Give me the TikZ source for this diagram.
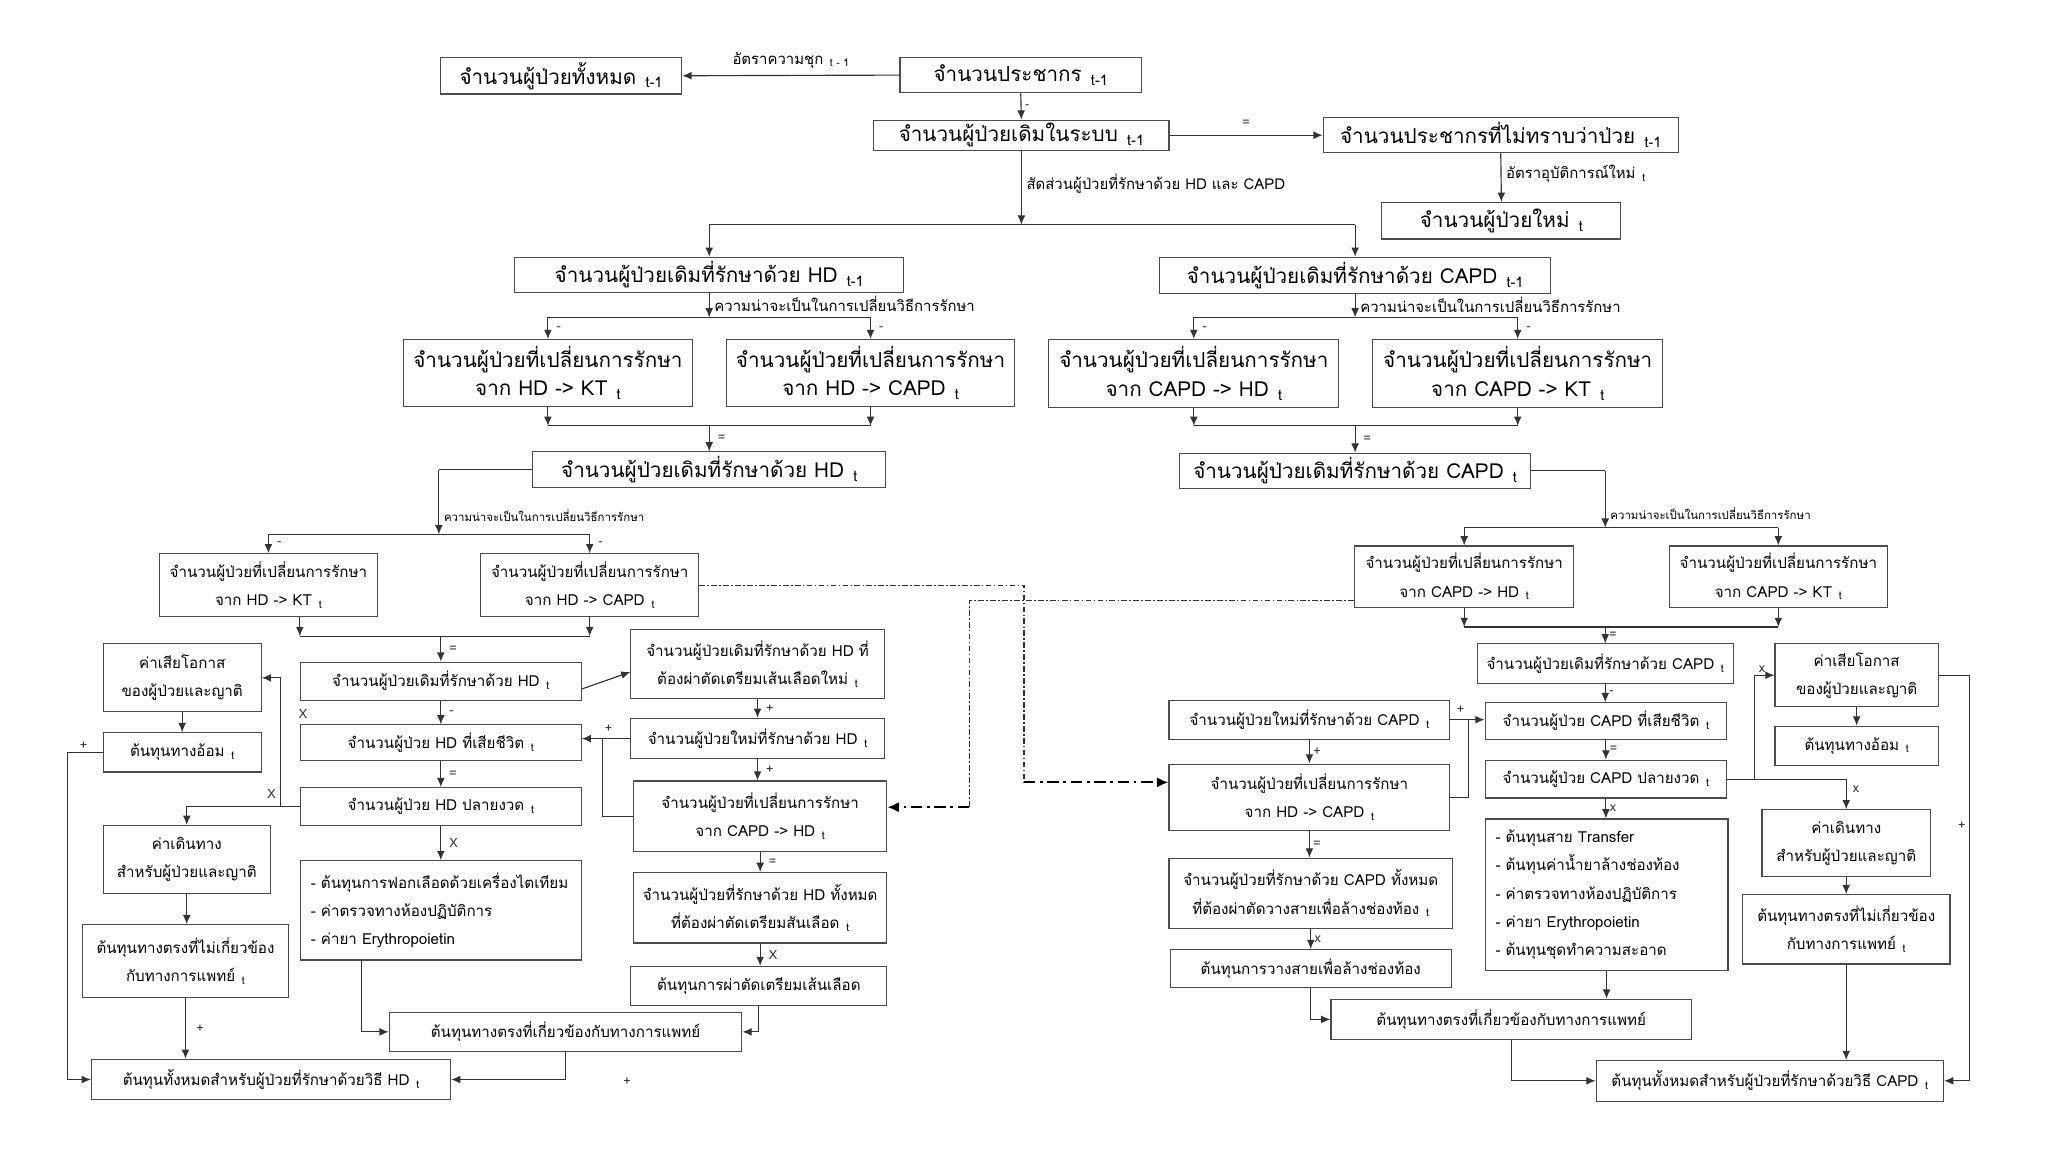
\documentclass[tikz,border=0pt]{standalone}
\usepackage{fontspec}
\setmainfont{Loma}[Script=Thai]
\usetikzlibrary{arrows.meta,calc}
\newcommand\mkbox[7]{%
  \node[#6, minimum width={(#4-#2)*0.02cm}, minimum height={(#5-#3)*0.02cm}] (#1) at ({(#2+#4)/2},{(#3+#5)/2}) {#7};}
\newcommand\tsub[1]{\hspace{0.45em}\raisebox{-0.35ex}{\scalebox{0.7}{#1}}}
\begin{document}
\begin{tikzpicture}[x=0.02cm,y=-0.02cm,
  bx/.style={draw=black!70, line width=0.5pt, inner sep=0pt, align=center, font=\fontsize{9}{12.5}\selectfont},
  sbx/.style={bx, font=\fontsize{6.6}{12.3}\selectfont},
  ln/.style={draw=black!80, line width=0.5pt},
  ar/.style={ln, -{Latex[length=4pt,width=3.4pt]}},
  lbl/.style={font=\fontsize{6.5}{8}\selectfont, inner sep=2pt},
  slbl/.style={font=\fontsize{5}{6}\selectfont, inner sep=2pt},
  op/.style={font=\fontsize{5.5}{6}\selectfont, inner sep=1.5pt, text=black!80},
  ddthin/.style={draw=black!80, line width=0.5pt, dash pattern=on 2.5pt off 1pt on 0.7pt off 1pt},
  ddbold/.style={draw=black, line width=0.9pt, dash pattern=on 5pt off 2pt on 1.2pt off 2pt, -{Latex[length=5pt,width=4.5pt]}},
]
\path[use as bounding box] (0,0) rectangle (1568,882);

% ---------- top level boxes ----------
\mkbox{B1}{337}{44}{522}{72}{bx}{จำนวนผู้ป่วยทั้งหมด\tsub{t-1}}
\mkbox{B2}{689}{44}{874}{71}{bx}{จำนวนประชากร\tsub{t-1}}
\mkbox{B3}{669}{92}{895}{115}{bx}{จำนวนผู้ป่วยเดิมในระบบ\tsub{t-1}}
\mkbox{B4}{1013}{90}{1285}{117}{bx}{จำนวนประชากรที่ไม่ทราบว่าป่วย\tsub{t-1}}
\mkbox{B5}{1058}{155}{1241}{183}{bx}{จำนวนผู้ป่วยใหม่\tsub{t}}
\mkbox{B6}{394}{197}{692}{224}{bx}{จำนวนผู้ป่วยเดิมที่รักษาด้วย HD\tsub{t-1}}
\mkbox{B7}{888}{197}{1187}{225}{bx}{จำนวนผู้ป่วยเดิมที่รักษาด้วย CAPD\tsub{t-1}}
\mkbox{B8}{309}{260}{530}{311}{bx}{จำนวนผู้ป่วยที่เปลี่ยนการรักษา\\จาก HD -> KT\tsub{t}}
\mkbox{B9}{556}{260}{777}{311}{bx}{จำนวนผู้ป่วยที่เปลี่ยนการรักษา\\จาก HD -> CAPD\tsub{t}}
\mkbox{B11}{803}{260}{1025}{312}{bx}{จำนวนผู้ป่วยที่เปลี่ยนการรักษา\\จาก CAPD -> HD\tsub{t}}
\mkbox{B12}{1051}{260}{1273}{312}{bx}{จำนวนผู้ป่วยที่เปลี่ยนการรักษา\\จาก CAPD -> KT\tsub{t}}
\mkbox{B10}{408}{346}{678}{373}{bx}{จำนวนผู้ป่วยเดิมที่รักษาด้วย HD\tsub{t}}
\mkbox{B13}{903}{347}{1172}{374}{bx}{จำนวนผู้ป่วยเดิมที่รักษาด้วย CAPD\tsub{t}}

% ---------- HD lower section ----------
\mkbox{B14}{122}{424}{289}{472}{sbx}{จำนวนผู้ป่วยที่เปลี่ยนการรักษา\\จาก HD -> KT\tsub{t}}
\mkbox{B15}{368}{424}{535}{472}{sbx}{จำนวนผู้ป่วยที่เปลี่ยนการรักษา\\จาก HD -> CAPD\tsub{t}}
\mkbox{B16}{230}{507}{445}{536}{sbx}{จำนวนผู้ป่วยเดิมที่รักษาด้วย HD\tsub{t}}
\mkbox{B17}{483}{482}{677}{535}{sbx}{จำนวนผู้ป่วยเดิมที่รักษาด้วย HD ที่\\ต้องผ่าตัดเตรียมเส้นเลือดใหม่\tsub{t}}
\mkbox{B18}{483}{550}{677}{581}{sbx}{จำนวนผู้ป่วยใหม่ที่รักษาด้วย HD\tsub{t}}
\mkbox{B19}{230}{555}{445}{582}{sbx}{จำนวนผู้ป่วย HD ที่เสียชีวิต\tsub{t}}
\mkbox{B20}{230}{603}{445}{632}{sbx}{จำนวนผู้ป่วย HD ปลายงวด\tsub{t}}
\node[sbx, align=left, text width=3.98cm, inner xsep=0.16cm, minimum height=1.52cm] (B21) at (337.5,697)
  {- ต้นทุนการฟอกเลือดด้วยเครื่องไตเทียม\\- ค่าตรวจทางห้องปฏิบัติการ\\- ค่ายา Erythropoietin};
\mkbox{B22}{298}{775}{568}{805}{sbx}{ต้นทุนทางตรงที่เกี่ยวข้องกับทางการแพทย์}
\mkbox{B23}{483}{740}{679}{770}{sbx}{ต้นทุนการผ่าตัดเตรียมเส้นเลือด}
\mkbox{B24}{70}{811}{345}{842}{sbx}{ต้นทุนทั้งหมดสำหรับผู้ป่วยที่รักษาด้วยวิธี HD\tsub{t}}
\mkbox{B25}{485}{598}{679}{652}{sbx}{จำนวนผู้ป่วยที่เปลี่ยนการรักษา\\จาก CAPD -> HD\tsub{t}}
\mkbox{B26}{485}{668}{679}{722}{sbx}{จำนวนผู้ป่วยที่รักษาด้วย HD ทั้งหมด\\ที่ต้องผ่าตัดเตรียมสันเลือด\tsub{t}}
\mkbox{B27}{79}{493}{200}{545}{sbx}{ค่าเสียโอกาส\\ของผู้ป่วยและญาติ}
\mkbox{B28}{79}{561}{200}{591}{sbx}{ต้นทุนทางอ้อม\tsub{t}}
\mkbox{B29}{79}{632}{207}{684}{sbx}{ค่าเดินทาง\\สำหรับผู้ป่วยและญาติ}
\mkbox{B30}{63}{708}{221}{764}{sbx}{ต้นทุนทางตรงที่ไม่เกี่ยวข้อง\\กับทางการแพทย์\tsub{t}}

% ---------- CAPD lower section ----------
\mkbox{B31}{1037}{418}{1205}{465}{sbx}{จำนวนผู้ป่วยที่เปลี่ยนการรักษา\\จาก CAPD -> HD\tsub{t}}
\mkbox{B32}{1278}{418}{1445}{465}{sbx}{จำนวนผู้ป่วยที่เปลี่ยนการรักษา\\จาก CAPD -> KT\tsub{t}}
\mkbox{B33}{1131}{493}{1327}{523}{sbx}{จำนวนผู้ป่วยเดิมที่รักษาด้วย CAPD\tsub{t}}
\mkbox{B34}{1137}{538}{1322}{566}{sbx}{จำนวนผู้ป่วย CAPD ที่เสียชีวิต\tsub{t}}
\mkbox{B35}{1137}{582}{1322}{611}{sbx}{จำนวนผู้ป่วย CAPD ปลายงวด\tsub{t}}
\node[sbx, align=left, text width=3.40cm, inner xsep=0.16cm, minimum height=2.32cm] (B36) at (1230,685)
  {- ต้นทุนสาย Transfer\\- ต้นทุนค่าน้ำยาล้างช่องท้อง\\- ค่าตรวจทางห้องปฏิบัติการ\\- ค่ายา Erythropoietin\\- ต้นทุนชุดทำความสะอาด};
\mkbox{B37}{1019}{765}{1295}{796}{sbx}{ต้นทุนทางตรงที่เกี่ยวข้องกับทางการแพทย์}
\mkbox{B38}{895}{536}{1110}{566}{sbx}{จำนวนผู้ป่วยใหม่ที่รักษาด้วย CAPD\tsub{t}}
\mkbox{B39}{895}{585}{1110}{636}{sbx}{จำนวนผู้ป่วยที่เปลี่ยนการรักษา\\จาก HD -> CAPD\tsub{t}}
\mkbox{B40}{895}{657}{1112}{711}{sbx}{จำนวนผู้ป่วยที่รักษาด้วย CAPD ทั้งหมด\\ที่ต้องผ่าตัดวางสายเพื่อล้างช่องท้อง\tsub{t}}
\mkbox{B41}{896}{727}{1111}{756}{sbx}{ต้นทุนการวางสายเพื่อล้างช่องท้อง}
\mkbox{B42}{1222}{812}{1488}{843}{sbx}{ต้นทุนทั้งหมดสำหรับผู้ป่วยที่รักษาด้วยวิธี CAPD\tsub{t}}
\mkbox{B43}{1359}{493}{1484}{541}{sbx}{ค่าเสียโอกาส\\ของผู้ป่วยและญาติ}
\mkbox{B44}{1359}{556}{1484}{586}{sbx}{ต้นทุนทางอ้อม\tsub{t}}
\mkbox{B45}{1349}{620}{1478}{671}{sbx}{ค่าเดินทาง\\สำหรับผู้ป่วยและญาติ}
\mkbox{B46}{1334}{685}{1493}{738}{sbx}{ต้นทุนทางตรงที่ไม่เกี่ยวข้อง\\กับทางการแพทย์\tsub{t}}

% ---------- coordinates ----------
\coordinate (j1) at (782,172);
\coordinate (j2) at (543,243);
\coordinate (j3) at (543,326);
\coordinate (j4) at (1037.5,243);
\coordinate (j5) at (1037.5,326);
\coordinate (j6) at (336,359.5);
\coordinate (j7) at (336,409);
\coordinate (j8) at (337.5,487);
\coordinate (j9) at (215,617.5);
\coordinate (j10) at (52,576);
\coordinate (j11) at (461,625);
\coordinate (j12) at (277,735);
\coordinate (k1) at (1229,360.5);
\coordinate (k2) at (1229,404);
\coordinate (k3) at (1229,480);
\coordinate (k4) at (1124,610.5);
\coordinate (k5) at (1343,596.5);
\coordinate (k6) at (1508,517);
\coordinate (d1) at (784,448);
\coordinate (d2) at (784,599);
\coordinate (d3) at (742,460);
\coordinate (d4) at (742,618);

% ---------- top connectors ----------
\draw[ar] (B2.west) -- (B1.east) node[lbl, midway, above=1pt] {อัตราความชุก\tsub{t - 1}};
\draw[ar] (B2.south) -- (B3.north) node[op, midway, right] {-};
\draw[ar] (B3.east) -- (B4.west) node[op, midway, above=2pt] {=};
\draw[ar] (B4.south) -- (B5.north) node[lbl, pos=0.42, right] {อัตราอุบัติการณ์ใหม่\tsub{t}};
\draw[ar] (B3.south) -- (j1) node[lbl, pos=0.45, right] {สัดส่วนผู้ป่วยที่รักษาด้วย HD และ CAPD};
\draw[ln] (B6.north |- j1) -- (B7.north |- j1);
\draw[ar] (B6.north |- j1) -- (B6.north);
\draw[ar] (B7.north |- j1) -- (B7.north);

\draw[ar] (B6.south) -- (j2) node[lbl, pos=0.45, right] {ความน่าจะเป็นในการเปลี่ยนวิธีการรักษา};
\draw[ln] (B8.north |- j2) -- (B9.north |- j2);
\draw[ar] (B8.north |- j2) -- (B8.north) node[op, midway, right=2pt] {-};
\draw[ar] (B9.north |- j2) -- (B9.north) node[op, midway, right=2pt] {-};
\draw[ar] (B8.south) -- (B8.south |- j3);
\draw[ar] (B9.south) -- (B9.south |- j3);
\draw[ln] (B8.south |- j3) -- (B9.south |- j3);
\draw[ar] (j3) -- (B10.north) node[op, midway, right=2pt] {=};

\draw[ar] (B7.south) -- (j4) node[lbl, pos=0.45, right] {ความน่าจะเป็นในการเปลี่ยนวิธีการรักษา};
\draw[ln] (B11.north |- j4) -- (B12.north |- j4);
\draw[ar] (B11.north |- j4) -- (B11.north) node[op, midway, right=2pt] {-};
\draw[ar] (B12.north |- j4) -- (B12.north) node[op, midway, right=2pt] {-};
\draw[ar] (B11.south) -- (B11.south |- j5);
\draw[ar] (B12.south) -- (B12.south |- j5);
\draw[ln] (B11.south |- j5) -- (B12.south |- j5);
\draw[ar] (j5) -- (B13.north) node[op, midway, right=2pt] {=};

% ---------- HD lower connectors ----------
\draw[ln] (B10.west) -- (j6);
\draw[ar] (j6) -- (j7) node[slbl, pos=0.72, right] {ความน่าจะเป็นในการเปลี่ยนวิธีการรักษา};
\draw[ln] (B14.north |- j7) -- (B15.north |- j7);
\draw[ar] (B14.north |- j7) -- (B14.north) node[op, midway, right=2pt] {-};
\draw[ar] (B15.north |- j7) -- (B15.north) node[op, midway, right=2pt] {-};
\draw[ar] (B14.south -| B16.west) -- (B16.west |- j8);
\draw[ar] (B15.south) -- (B15.south |- j8);
\draw[ln] (B16.west |- j8) -- (B15.south |- j8);
\draw[ar] (j8) -- (B16.north) node[op, midway, right=2pt] {=};
\draw[ar] (B16.south) -- (B19.north) node[op, midway, right=2pt] {-};
\draw[ar] (B19.south) -- (B20.north) node[op, midway, right=2pt] {=};
\draw[ar] (B20.south) -- (B21.north) node[op, midway, right=2pt] {X};

\draw[ar] ($(B16.east)+(0,6)$) -- ($(B17.west)+(0,6)$);
\draw[ar] (B17.south) -- (B17.south |- B18.north) node[op, midway, right=2pt] {+};
\draw[ar] (B18.south) -- (B18.south |- B25.north) node[op, midway, right=2pt] {+};
\draw[ar] (B25.south) -- (B25.south |- B26.north) node[op, midway, right=2pt] {=};
\draw[ar] (B26.south) -- (B26.south |- B23.north) node[op, midway, right=2pt] {X};
\draw[ar] (B18.west) -- (B18.west -| B19.east) node[op, pos=0.45, above=1pt] {+};
\draw[ln] (B25.west) -- (j11) -- (j11 |- B18.west);

\draw[ar] (j12) |- (B22.west);
\draw[ar] (B23.south) |- (B22.east);
\draw[ar] (B22.south) |- (B24.east);
\node[op] (pl1) at (480,828) {+};

\draw[ln] (B20.west) -- (j9);
\draw[ar] (j9) |- (B27.east);
\draw[ar] (j9) -| (B29.north);
\node[op] (x1) at (232,547) {X};
\node[op] (x2) at (208,608) {X};
\draw[ar] (B27.south) -- (B28.north);
\draw[ar] (B29.south) -- (B29.south |- B30.north);
\draw[ar] (B30.south) -- (B30.south |- B24.north) node[op, midway, right=3pt] {+};
\draw[ar] (B28.west) -- (B28.west -| j10) |- (B24.west);
\node[op] (pl2) at (64,571) {+};

% ---------- CAPD lower connectors ----------
\draw[ln] (B13.east) -- (k1);
\draw[ar] (k1) -- (k2) node[slbl, pos=0.75, right] {ความน่าจะเป็นในการเปลี่ยนวิธีการรักษา};
\draw[ln] (B31.north |- k2) -- (B32.north |- k2);
\draw[ar] (B31.north |- k2) -- (B31.north);
\draw[ar] (B32.north |- k2) -- (B32.north);
\draw[ar] (B31.south) -- (B31.south |- k3);
\draw[ar] (B32.south) -- (B32.south |- k3);
\draw[ln] (B31.south |- k3) -- (B32.south |- k3);
\draw[ar] (k3) -- (B33.north) node[op, midway, right] {=};
\draw[ar] (B33.south) -- (B33.south |- B34.north) node[op, midway, right] {-};
\draw[ar] (B34.south) -- (B35.north) node[op, midway, right] {=};
\draw[ar] (B35.south) -- (B35.south |- B36.north) node[op, midway, right] {x};
\draw[ar] (B36.south) -- (B36.south |- B37.north);
\draw[ar] (B37.south) |- (B42.west);
\draw[ar] (B41.south) |- (B37.west);

\draw[ar] (B38.south) -- (B38.south |- B39.north) node[op, midway, right] {+};
\draw[ar] (B39.south) -- (B39.south |- B40.north) node[op, midway, right] {=};
\draw[ar] (B40.south) -- (B40.south |- B41.north) node[op, midway, right] {x};
\draw[ar] (B38.east) -- (B38.east -| B34.west) node[op, pos=0.3, above=1pt] {+};
\draw[ln] (B39.east) -- (k4) -- (k4 |- B38.east);

\draw[ln] (B35.east) -- (k5);
\draw[ar] (k5) |- (B43.west);
\draw[ar] (k5) -| (B45.north);
\node[op] (x3) at (1349,512) {x};
\node[op] (x4) at (1421,604) {x};
\draw[ar] (B43.south) -- (B43.south |- B44.north);
\draw[ar] (B45.south) -- (B45.south |- B46.north);
\draw[ar] (B46.south) -- (B46.south |- B42.north);
\draw[ar] (B43.east) -- (k6) |- (B42.east);
\node[op] (pl3) at (1502,632) {+};

% ---------- dash-dot transfers ----------
\draw[ddthin] (B15.east) -- (d1) -- (d2);
\draw[ddbold] (d2) -- (d2 -| B39.west);
\draw[ddthin] (d3 -| B31.west) -- (d3) -- (d4);
\draw[ddbold] (d4) -- (d4 -| B25.east);
\end{tikzpicture}
\end{document}
